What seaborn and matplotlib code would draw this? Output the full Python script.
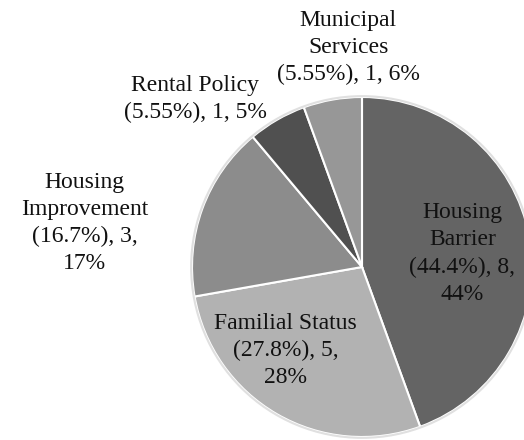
import matplotlib
matplotlib.use('Agg')
import matplotlib.pyplot as plt
import seaborn as sns

# --- Data ---
categories = ['Housing Barrier', 'Familial Status', 'Housing Improvement',
              'Rental Policy', 'Municipal Services']
counts = [8, 5, 3, 1, 1]
share_text = ['44.4%', '27.8%', '16.7%', '5.55%', '5.55%']
rounded_pct = ['44%', '28%', '17%', '5%', '6%']
label_text = [
    'Housing\nBarrier\n({}), {},\n{}',
    'Familial Status\n({}), {},\n{}',
    'Housing\nImprovement\n({}), {},\n{}',
    'Rental Policy\n({}), {}, {}',
    'Municipal\nServices\n({}), {}, {}',
]
colors = ['#646464', '#b2b2b2', '#8c8c8c', '#505050', '#979797']

# label anchor positions (pie radius = 1)
label_pos = [(0.59, 0.08), (-0.45, -0.49), (-1.63, 0.26), (-0.98, 0.99), (-0.08, 1.29)]

sns.set_theme(style="white")
plt.rcParams['font.family'] = ['Liberation Serif', 'DejaVu Serif']

fig = plt.figure(figsize=(5.24, 4.4), dpi=100)
ax = fig.add_axes([0, 0, 1, 1])

wedges, _ = ax.pie(counts, colors=colors, startangle=90, counterclock=False,
                   radius=1.0,
                   wedgeprops=dict(edgecolor='white', linewidth=1.5))
# light outer rim
ax.add_patch(plt.Circle((0, 0), 1.005, fill=False, edgecolor='#e0e0e0', linewidth=1.5))

for i, tmpl in enumerate(label_text):
    txt = tmpl.format(share_text[i], counts[i], rounded_pct[i])
    ax.text(label_pos[i][0], label_pos[i][1], txt, ha='center', va='center',
            fontsize=17, color='#111111', linespacing=1.38)

ax.set_xlim(-362 / 170, (524 - 362) / 170)
ax.set_ylim(-173 / 170, 267 / 170)
ax.set_aspect('auto')
ax.axis('off')

fig.savefig('out.png', dpi=100, facecolor='white')
plt.close('all')
